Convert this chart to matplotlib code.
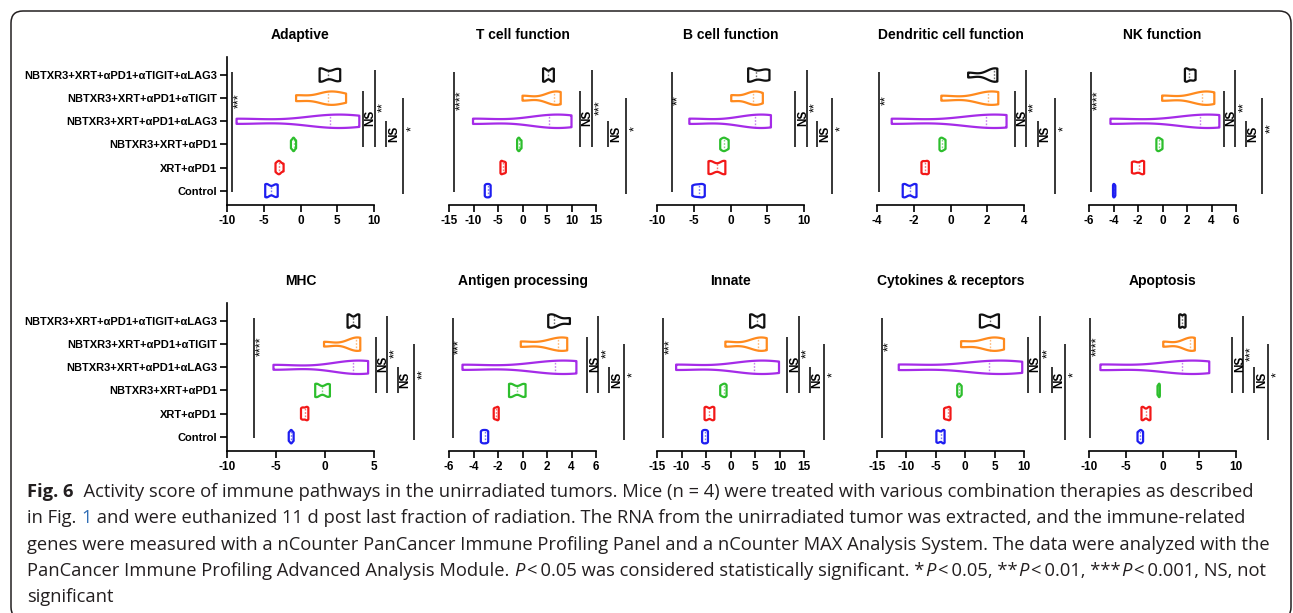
import numpy as np
import matplotlib
matplotlib.use("Agg")
import matplotlib.pyplot as plt
from matplotlib import cbook, mlab
from matplotlib.patches import FancyBboxPatch
from matplotlib.transforms import IdentityTransform
from matplotlib.font_manager import FontProperties

plt.rcParams["font.family"] = ["Liberation Sans", "DejaVu Sans"]
plt.rcParams["font.weight"] = "bold"
plt.rcParams["axes.unicode_minus"] = False

# groups, top to bottom
groups = [
    "NBTXR3+XRT+αPD1+αTIGIT+αLAG3",
    "NBTXR3+XRT+αPD1+αTIGIT",
    "NBTXR3+XRT+αPD1+αLAG3",
    "NBTXR3+XRT+αPD1",
    "XRT+αPD1",
    "Control",
]
group_colors = ["#111111", "#FF8A1E", "#A52BE8", "#2DBE2D", "#F21818", "#1E1EF0"]

titles = ["Adaptive", "T cell function", "B cell function", "Dendritic cell function",
          "NK function", "MHC", "Antigen processing", "Innate",
          "Cytokines & receptors", "Apoptosis"]

# activity scores, n = 4 mice per group (rows follow `groups`)
adaptive = [[2.6, 2.8, 4.8, 5.4], [-0.6, 3.6, 4.0, 6.2], [-8.7, 3.0, 5.0, 8.0],
            [-1.3, -1.0, -0.9, -0.6], [-3.4, -3.0, -2.8, -2.3], [-4.8, -4.5, -3.5, -3.1]]
t_cell = [[4.2, 4.5, 6.0, 6.4], [0.0, 5.8, 7.0, 7.8], [-10.1, 3.5, 7.5, 10.0],
          [-1.1, -0.8, -0.6, -0.2], [-4.5, -4.2, -3.8, -3.4], [-7.7, -7.3, -6.9, -6.5]]
b_cell = [[2.4, 2.6, 4.4, 5.3], [0.1, 2.6, 3.4, 4.4], [-5.6, 2.0, 4.6, 5.5],
          [-1.4, -1.0, -0.7, -0.25], [-3.0, -2.6, -1.0, -0.7], [-5.2, -4.6, -4.0, -3.5]]
dendritic = [[0.96, 2.2, 2.5, 2.55], [-0.5, 1.8, 2.3, 2.6], [-3.2, 1.2, 2.7, 3.05],
             [-0.6, -0.5, -0.4, -0.27], [-1.58, -1.45, -1.3, -1.18], [-2.6, -2.45, -2.0, -1.85]]
nk = [[1.83, 2.0, 2.4, 2.7], [-0.03, 2.9, 3.6, 4.23], [-4.25, 2.0, 4.1, 4.64],
      [-0.5, -0.35, -0.2, 0.0], [-2.5, -2.2, -1.7, -1.5], [-4.04, -3.98, -3.92, -3.85]]
mhc = [[2.3, 2.5, 3.3, 3.5], [-0.1, 2.9, 3.4, 3.6], [-5.26, 2.0, 3.7, 4.4],
       [-1.0, -0.8, 0.2, 0.5], [-2.45, -2.2, -1.9, -1.7], [-3.7, -3.5, -3.4, -3.2]]
antigen = [[2.1, 2.3, 2.8, 3.87], [-0.14, 2.4, 3.4, 3.65], [-4.9, 1.6, 3.7, 4.4],
           [-1.1, -0.9, 0.0, 0.25], [-2.35, -2.2, -2.05, -1.94], [-3.4, -3.2, -3.0, -2.8]]
innate = [[4.0, 4.4, 6.4, 6.9], [-1.05, 5.0, 6.4, 7.4], [-11.1, 2.8, 6.6, 9.9],
          [-2.1, -1.6, -1.2, -0.8], [-5.3, -4.8, -3.8, -3.3], [-5.8, -5.4, -5.0, -4.6]]
cytokines = [[2.5, 3.0, 5.6, 5.74], [-0.7, 3.6, 5.0, 6.6], [-11.3, 2.0, 6.0, 9.7],
             [-1.36, -1.1, -0.9, -0.6], [-3.6, -3.2, -2.8, -2.5], [-4.9, -4.5, -3.8, -3.5]]
apoptosis = [[2.27, 2.5, 2.9, 3.14], [0.1, 3.2, 4.2, 4.4], [-8.45, 0.8, 4.4, 6.36],
             [-0.68, -0.55, -0.45, -0.36], [-2.86, -2.6, -1.9, -1.64], [-3.4, -3.1, -2.9, -2.64]]
panel_data = [adaptive, t_cell, b_cell, dendritic, nk, mhc, antigen, innate, cytokines, apoptosis]

# x axis (min, max, step)
x_ranges = [(-10, 10, 5), (-15, 15, 5), (-10, 10, 5), (-4, 4, 2), (-6, 6, 2),
            (-10, 5, 5), (-6, 6, 2), (-15, 15, 5), (-15, 10, 5), (-10, 10, 5)]

# significance bars: x of left bar, then the four right bars
sig_x = [(-9.3, 8.5, 10.1, 11.7, 14.0), (-13.9, 11.7, 14.2, 17.5, 21.2),
         (-8.0, 8.8, 10.4, 11.8, 13.8), (-3.9, 3.5, 4.1, 4.75, 5.7),
         (-5.8, 5.0, 5.95, 6.8, 8.1), (-7.2, 5.2, 6.3, 7.4, 9.1),
         (-5.7, 5.3, 6.2, 7.1, 8.3), (-13.8, 11.6, 13.9, 16.2, 19.1),
         (-14.1, 10.6, 12.7, 14.7, 17.0), (-9.8, 9.5, 10.9, 12.5, 14.4)]
left_stars = ["***", "****", "**", "**", "****", "****", "***", "***", "**", "****"]
mid_stars = ["**", "***", "**", "**", "**", "**", "**", "**", "**", "***"]
right_stars = ["*", "*", "*", "*", "**", "**", "*", "*", "*", "*"]

W, H = 1293, 613
fig = plt.figure(figsize=(W / 100, H / 100), dpi=100)

col_left = [227, 449, 657, 877, 1089]
row_top = [57, 303]
ax_h, ax_w, spine_w = 148, 192, 147
vio_w = 0.58
positions = np.arange(len(groups))[::-1]


def kde(x, coords):
    return mlab.GaussianKDE(x, 0.55).evaluate(coords)


for k in range(len(titles)):
    r, c = divmod(k, 5)
    left, top = col_left[c], row_top[r]
    ax = fig.add_axes([left / W, 1 - (top + ax_h) / H, ax_w / W, ax_h / H])
    ax.patch.set_visible(False)
    xmin, xmax, step = x_ranges[k]
    ax.set_xlim(xmin, xmin + (xmax - xmin) * ax_w / spine_w)
    ax.set_ylim(-0.62, 5.78)

    stats = cbook.violin_stats(panel_data[k], kde, points=200)
    parts = ax.violin(stats, positions=positions, orientation="horizontal",
                      widths=vio_w, showextrema=False)
    for body, col in zip(parts["bodies"], group_colors):
        body.set_facecolor("none")
        body.set_edgecolor(col)
        body.set_linewidth(1.6)
        body.set_alpha(1)
    for st, pos, col in zip(stats, positions, group_colors):
        hw = np.interp(st["median"], st["coords"], st["vals"]) / st["vals"].max() * vio_w / 2
        ax.vlines(st["median"], pos - hw, pos + hw, colors=col, alpha=0.6,
                  linestyles=(0, (1.2, 1.2)), linewidth=1.0)

    # significance bars
    lx, x1, x2, x3, x4 = sig_x[k]
    bars = [(lx, -0.05, 5.15, left_stars[k], 3.9, 5, 9),
            (x1, 1.9, 4.3, "NS", 3.15, 5.5, 8.5),
            (x2, 1.9, 5.2, mid_stars[k], 3.6, 6, 9),
            (x3, 1.9, 3.0, "NS", 2.45, 5.5, 8.5),
            (x4, -0.15, 4.0, right_stars[k], 2.7, 6.5, 9)]
    for bx, y0, y1, lbl, ly, off, fs in bars:
        ax.vlines(bx, y0, y1, colors="black", linewidth=1.1)
        ax.annotate(lbl, xy=(bx, ly), xytext=(off, 0), textcoords="offset points",
                    rotation=90, ha="center", va="center", fontsize=fs,
                    fontweight="bold" if lbl == "NS" else "normal")

    ax.text((xmin + xmax) / 2, 1 + 22 / ax_h, titles[k], transform=ax.get_xaxis_transform(),
            ha="center", va="center", fontsize=10, fontweight="bold")

    for side in ["top", "right"]:
        ax.spines[side].set_visible(False)
    ax.spines["bottom"].set_bounds(xmin, xmax)
    ax.spines["bottom"].set_linewidth(1.2)
    ax.set_xticks(np.arange(xmin, xmax + step / 2, step))
    ax.tick_params(axis="x", length=5, width=1.2, labelsize=8.5, pad=2)
    if c == 0:
        ax.spines["left"].set_linewidth(1.2)
        ax.set_yticks(positions)
        ax.set_yticklabels(groups)
        ax.tick_params(axis="y", length=5, width=1.2, labelsize=8, pad=2)
    else:
        ax.spines["left"].set_visible(False)
        ax.set_yticks([])

# frame round the figure
frame = FancyBboxPatch((11, -6), 1280, 608, boxstyle="round,pad=0,rounding_size=12",
                       transform=IdentityTransform(), facecolor="none",
                       edgecolor="#231F20", linewidth=1.1)
fig.add_artist(frame)

# caption
renderer = fig.canvas.get_renderer()
cap_family = ["Open Sans", "DejaVu Sans"]
cap_color = "#231F20"
link_color = "#2F6DB5"
cap_size = 13.2


def caption_line(y_px, segments, x_px=27):
    for txt, weight, style, color in segments:
        fig.text(x_px / W, 1 - y_px / H, txt, ha="left", va="baseline", fontsize=cap_size,
                 family=cap_family, fontweight=weight, fontstyle=style, color=color)
        prop = FontProperties(family=cap_family, size=cap_size, weight=weight, style=style)
        w_full = renderer.get_text_width_height_descent(txt + "l", prop, ismath=False)[0]
        w_l = renderer.get_text_width_height_descent("l", prop, ismath=False)[0]
        x_px += w_full - w_l


n, b, it = "normal", "bold", "italic"
lt = "\u2009<\u2009"
caption_line(497, [("Fig. 6", b, n, cap_color),
                   ("  Activity score of immune pathways in the unirradiated tumors. Mice (n = 4) "
                    "were treated with various combination therapies as described", n, n, cap_color)])
caption_line(523, [("in Fig. ", n, n, cap_color), ("1", n, n, link_color),
                   (" and were euthanized 11 d post last fraction of radiation. The RNA from the "
                    "unirradiated tumor was extracted, and the immune-related", n, n, cap_color)])
caption_line(550, [("genes were measured with a nCounter PanCancer Immune Profiling Panel and a "
                    "nCounter MAX Analysis System. The data were analyzed with the", n, n, cap_color)])
caption_line(576, [("PanCancer Immune Profiling Advanced Analysis Module. ", n, n, cap_color),
                   ("P", n, it, cap_color),
                   (lt + "0.05 was considered statistically significant. *", n, n, cap_color),
                   ("P", n, it, cap_color), (lt + "0.05, **", n, n, cap_color),
                   ("P", n, it, cap_color), (lt + "0.01, ***", n, n, cap_color),
                   ("P", n, it, cap_color), (lt + "0.001, NS, not", n, n, cap_color)])
caption_line(602, [("significant", n, n, cap_color)])

fig.savefig("out.png", dpi=100)
